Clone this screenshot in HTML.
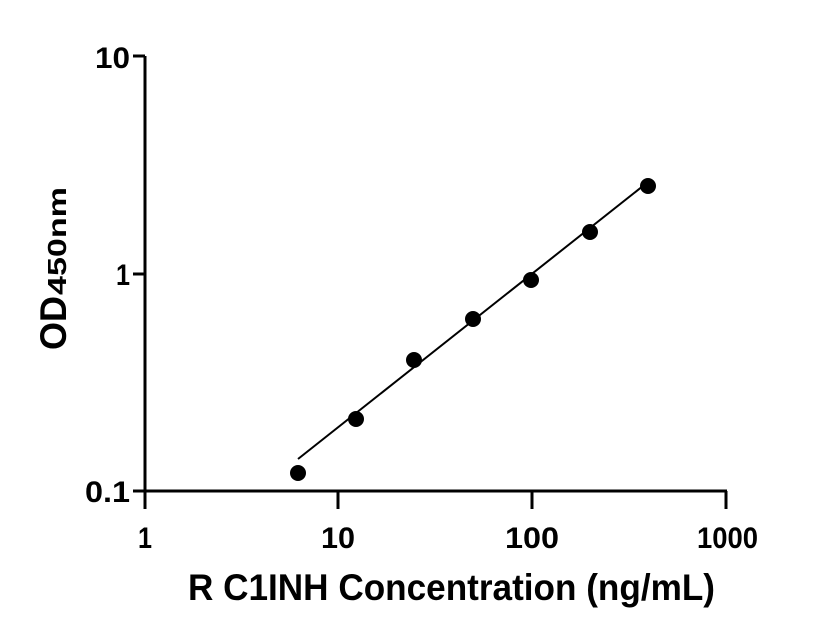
<!DOCTYPE html>
<html><head><style>body{margin:0;background:#fff}svg{display:block}</style></head>
<body>
<svg width="816" height="640" xmlns="http://www.w3.org/2000/svg" font-family="Liberation Sans, sans-serif" font-weight="bold">
<g stroke="#000" stroke-width="3" fill="none">
<line x1="145" y1="56" x2="145" y2="509"/>
<line x1="144" y1="491" x2="727" y2="491"/>
<line x1="133" y1="56" x2="145" y2="56"/>
<line x1="133" y1="274" x2="145" y2="274"/>
<line x1="133" y1="491" x2="145" y2="491"/>
<line x1="338" y1="491" x2="338" y2="509"/>
<line x1="532" y1="491" x2="532" y2="509"/>
<line x1="726" y1="491" x2="726" y2="509"/>
</g>
<line x1="298" y1="459" x2="648" y2="182" stroke="#000" stroke-width="2"/>
<g fill="#000">
<circle cx="298" cy="473" r="8"/>
<circle cx="356" cy="419" r="8"/>
<circle cx="414" cy="360" r="8"/>
<circle cx="473" cy="319" r="8"/>
<circle cx="531" cy="280" r="8"/>
<circle cx="590" cy="232" r="8"/>
<circle cx="648" cy="186" r="8"/>
</g>
<g font-size="30">
<text x="95" y="68" textLength="35" lengthAdjust="spacingAndGlyphs">10</text>
<text x="116" y="285" textLength="14" lengthAdjust="spacingAndGlyphs">1</text>
<text x="85" y="502" textLength="45" lengthAdjust="spacingAndGlyphs">0.1</text>
<text x="138" y="548" textLength="14" lengthAdjust="spacingAndGlyphs">1</text>
<text x="321" y="548" textLength="34" lengthAdjust="spacingAndGlyphs">10</text>
<text x="505" y="548" textLength="54" lengthAdjust="spacingAndGlyphs">100</text>
<text x="697" y="548" textLength="61" lengthAdjust="spacingAndGlyphs">1000</text>
<text x="188" y="600" font-size="37" textLength="527" lengthAdjust="spacingAndGlyphs">R C1INH Concentration (ng/mL)</text>
</g>
<g transform="translate(66,350) rotate(-90)">
<text x="0" y="0" font-size="37" textLength="54" lengthAdjust="spacingAndGlyphs">OD</text>
<text x="55" y="0" font-size="26" textLength="108" lengthAdjust="spacingAndGlyphs">450nm</text>
</g>
</svg>
</body></html>
